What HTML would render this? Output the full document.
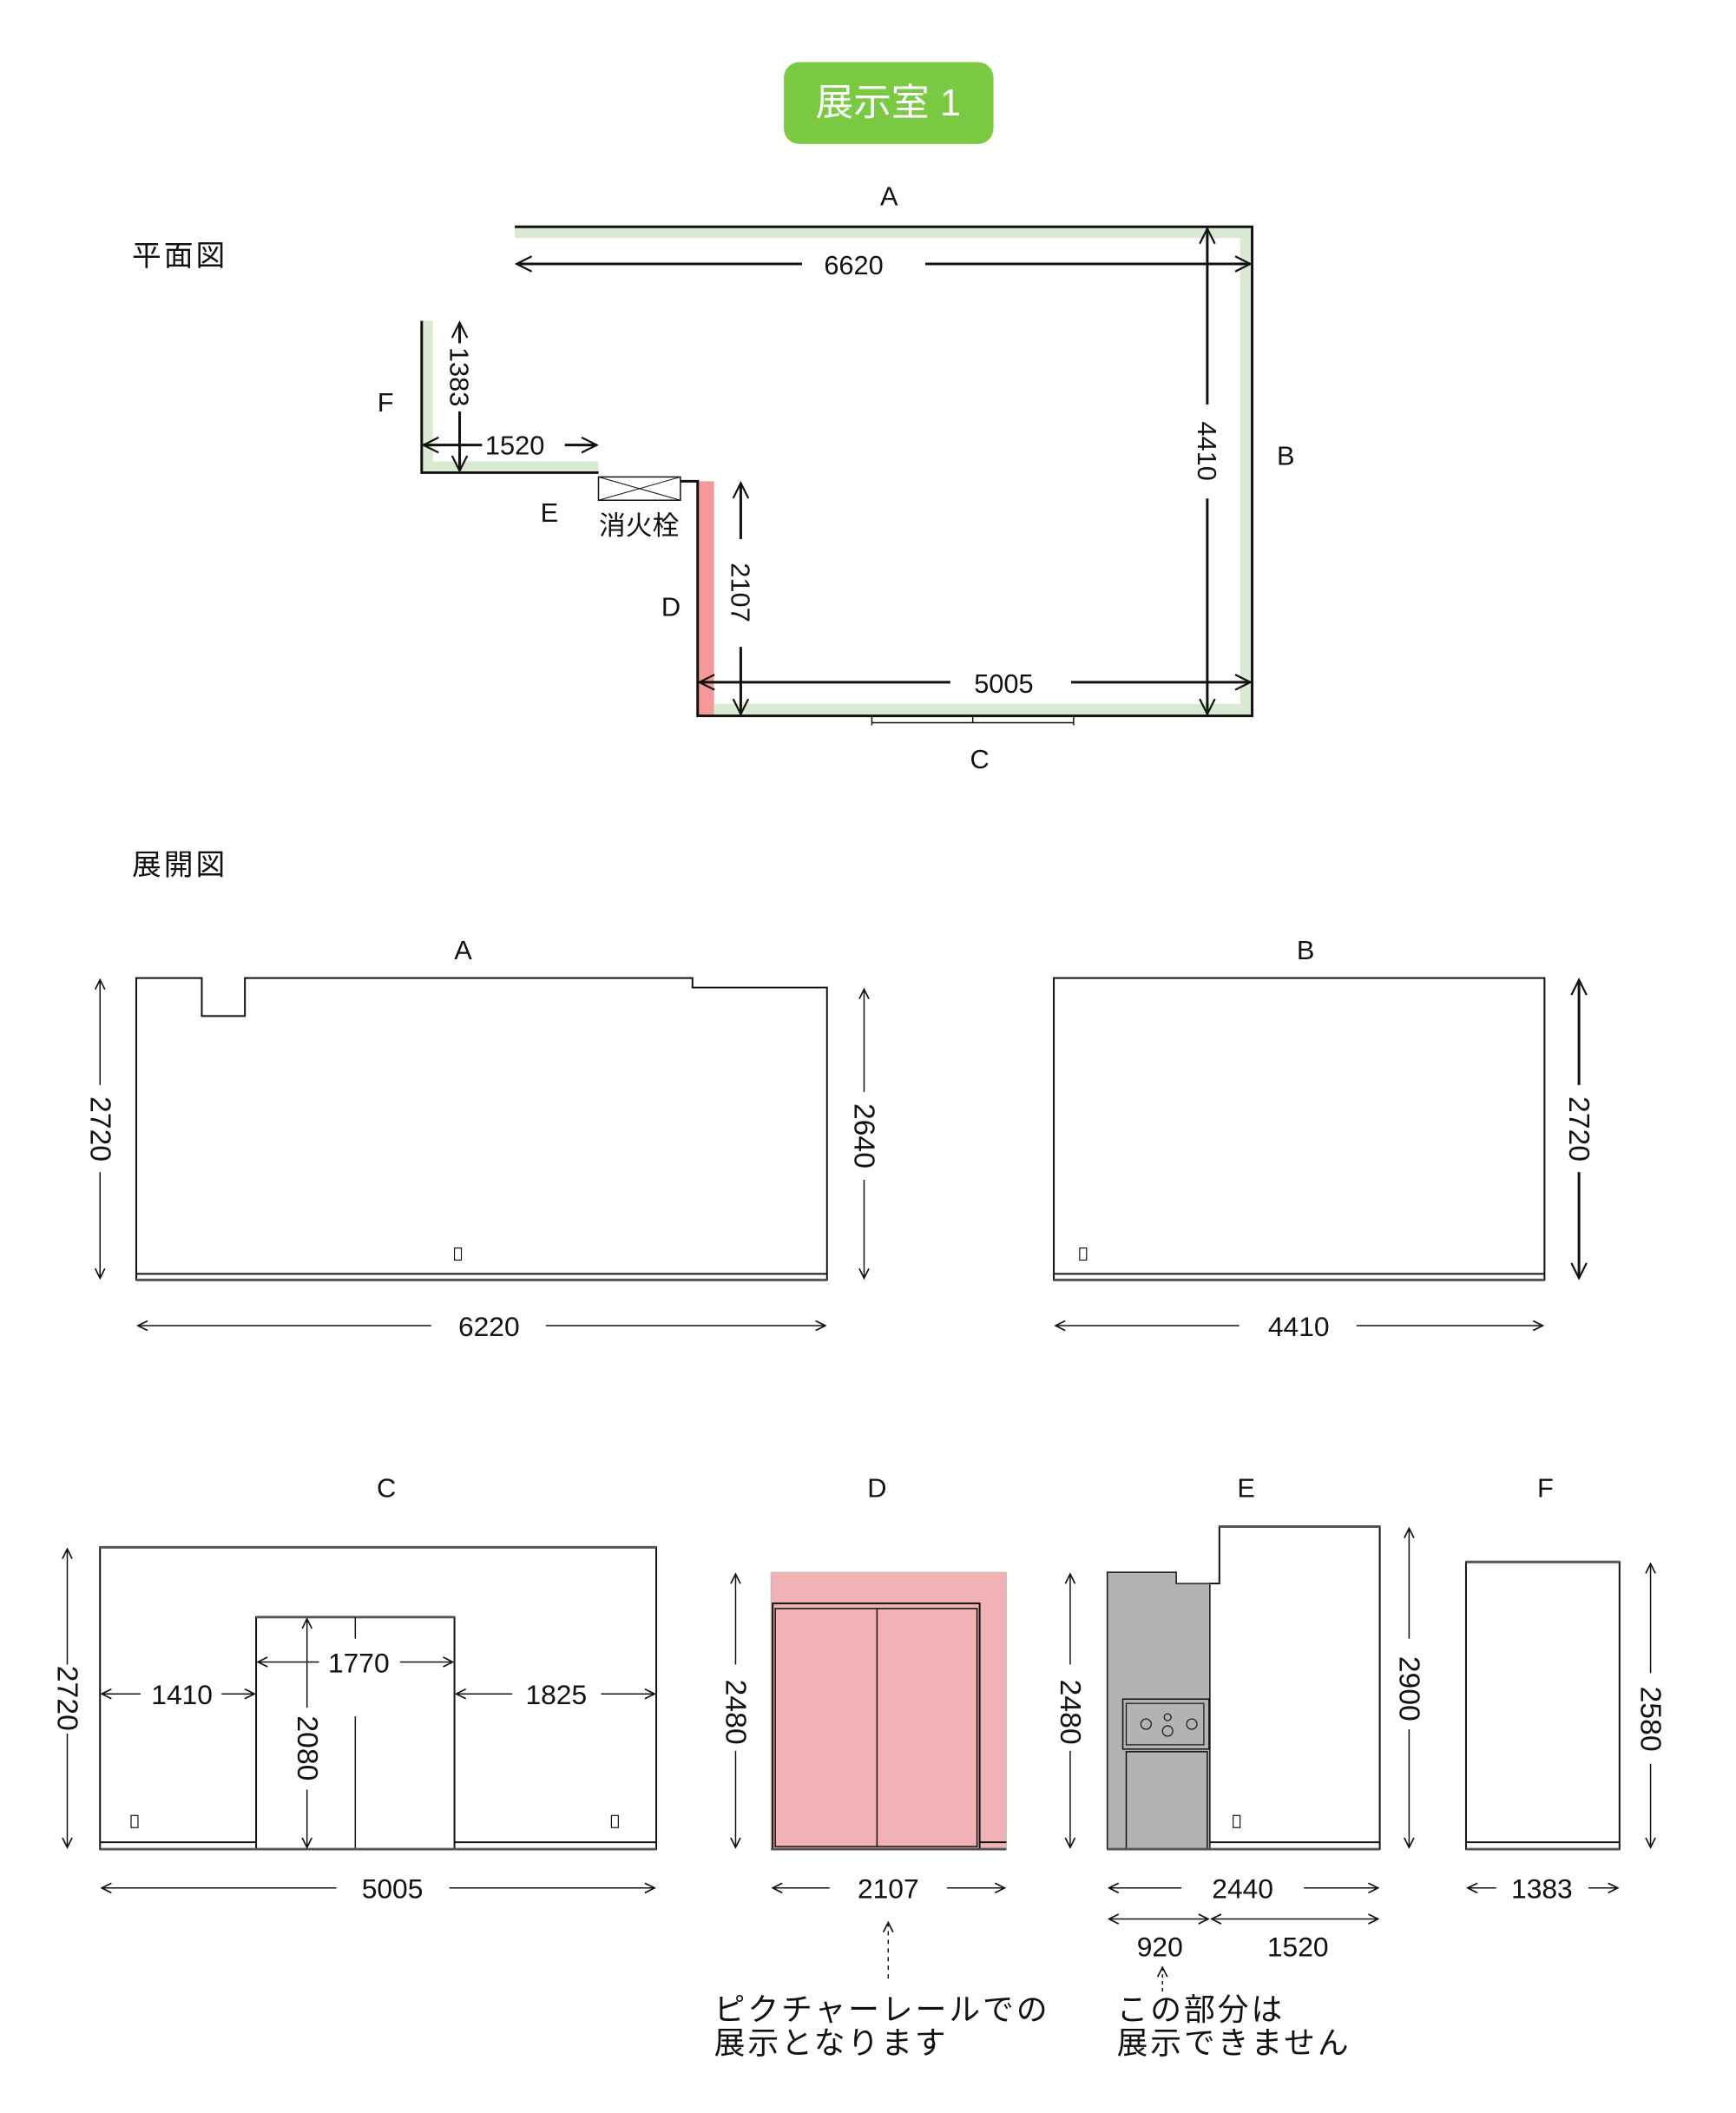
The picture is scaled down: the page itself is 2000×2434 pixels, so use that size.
<!DOCTYPE html>
<html><head><meta charset="utf-8"><style>
html,body{margin:0;padding:0;background:#fff}
svg{display:block}
text{font-family:"Liberation Sans","Noto Sans CJK JP",sans-serif;fill:#111}
</style></head><body>
<svg width="2000" height="2434" viewBox="0 0 2000 2434" xmlns="http://www.w3.org/2000/svg">
<defs>
<marker id="a" viewBox="0 0 10 10" refX="9" refY="5" markerWidth="14" markerHeight="14" markerUnits="userSpaceOnUse" orient="auto-start-reverse"><path d="M1,1 L9,5 L1,9" fill="none" stroke="#111" stroke-width="1.2"/></marker>
<marker id="b" viewBox="0 0 10 10" refX="9" refY="5" markerWidth="22" markerHeight="22" markerUnits="userSpaceOnUse" orient="auto-start-reverse"><path d="M1,1 L9,5 L1,9" fill="none" stroke="#111" stroke-width="1"/></marker>
</defs>
<g transform="scale(0.9935)">
<rect x="909" y="72" width="243" height="95" rx="18" fill="#7ac943"/>
<text x="1030" y="134" font-size="44" text-anchor="middle" style="fill:#fff">展示室 1</text>

<text x="153" y="308" font-size="34" letter-spacing="3">平面図</text>

<rect x="597" y="263" width="855" height="13" fill="#d9ead3"/>
<rect x="1438" y="263" width="14" height="567" fill="#d9ead3"/>
<rect x="809" y="816" width="643" height="14" fill="#d9ead3"/>
<rect x="809" y="558" width="19" height="272" fill="#f4999a"/>
<rect x="489" y="535" width="205" height="13" fill="#d9ead3"/>
<rect x="489" y="372" width="13" height="176" fill="#d9ead3"/>
<g fill="none" stroke="#111" stroke-width="3">
<path d="M597,263 H1452 V830 H809 V558 H789"/>
<path d="M489,372 V548 H694"/>
</g>
<rect x="694" y="553" width="95" height="27" fill="none" stroke="#111" stroke-width="1.5"/>
<path d="M694,553 L789,580 M789,553 L694,580" stroke="#111" stroke-width="1"/>
<path d="M1011,841 V830 M1245,841 V830 M1011,838 H1245 M1128,830 V838" stroke="#111" stroke-width="1.5" fill="none"/>
<text x="1031" y="238" font-size="31" text-anchor="middle">A</text>
<text x="1491" y="539" font-size="31" text-anchor="middle">B</text>
<text x="1136" y="891" font-size="31" text-anchor="middle">C</text>
<text x="778" y="714" font-size="31" text-anchor="middle">D</text>
<text x="637" y="605" font-size="31" text-anchor="middle">E</text>
<text x="447" y="477" font-size="31" text-anchor="middle">F</text>
<text x="741" y="620" font-size="31" text-anchor="middle">消火栓</text>
<g stroke="#111" stroke-width="3" fill="none">
<path d="M930,306 H599" marker-end="url(#b)"/>
<path d="M1073,306 H1450" marker-end="url(#b)"/>
<path d="M1400,469 V265" marker-end="url(#b)"/>
<path d="M1400,578 V828" marker-end="url(#b)"/>
<path d="M859,625 V560" marker-end="url(#b)"/>
<path d="M859,750 V828" marker-end="url(#b)"/>
<path d="M1102,791 H811" marker-end="url(#b)"/>
<path d="M1242,791 H1450" marker-end="url(#b)"/>
<path d="M533,398 V374" marker-end="url(#b)"/>
<path d="M533,477 V546" marker-end="url(#b)"/>
<path d="M559,516 H491" marker-end="url(#b)"/>
<path d="M655,516 H692" marker-end="url(#b)"/>
</g>
<text x="990" y="318" font-size="31" text-anchor="middle">6620</text>
<text x="1164" y="803" font-size="31" text-anchor="middle">5005</text>
<text x="597" y="527" font-size="31" text-anchor="middle">1520</text>
<text transform="translate(1389,523) rotate(90)" font-size="31" text-anchor="middle">4410</text>
<text transform="translate(848,687) rotate(90)" font-size="31" text-anchor="middle">2107</text>
<text transform="translate(522,437) rotate(90)" font-size="31" text-anchor="middle">1383</text>

<text x="153" y="1014" font-size="34" letter-spacing="3">展開図</text>

<text x="537" y="1112" font-size="31" text-anchor="middle">A</text>
<path d="M158,1484 V1134 H234 V1178 H284 V1134 H803 V1145 H959 V1484 Z" fill="none" stroke="#111" stroke-width="2"/>
<path d="M158,1477 H959" stroke="#111" stroke-width="2"/>
<path d="M158,1484 H959" stroke="#555" stroke-width="3"/>
<rect x="527" y="1447" width="8" height="14" fill="none" stroke="#111" stroke-width="1.2"/>
<g stroke="#111" stroke-width="1.5" fill="none">
<path d="M116,1258 V1136" marker-end="url(#a)"/><path d="M116,1359 V1482" marker-end="url(#a)"/>
<path d="M1002,1266 V1147" marker-end="url(#a)"/><path d="M1002,1368 V1482" marker-end="url(#a)"/>
<path d="M500,1537 H160" marker-end="url(#a)"/><path d="M633,1537 H957" marker-end="url(#a)"/>
</g>
<text transform="translate(105,1309) rotate(90)" font-size="34" text-anchor="middle">2720</text>
<text transform="translate(991,1317) rotate(90)" font-size="34" text-anchor="middle">2640</text>
<text x="567" y="1549" font-size="32" text-anchor="middle">6220</text>

<text x="1514" y="1112" font-size="31" text-anchor="middle">B</text>
<rect x="1222" y="1134" width="569" height="350" fill="none" stroke="#111" stroke-width="2"/>
<path d="M1222,1477 H1791" stroke="#111" stroke-width="2"/>
<path d="M1222,1484 H1791" stroke="#555" stroke-width="3"/>
<rect x="1252" y="1447" width="8" height="14" fill="none" stroke="#111" stroke-width="1.2"/>
<g stroke="#111" stroke-width="3" fill="none">
<path d="M1831,1258 V1136" marker-end="url(#b)"/><path d="M1831,1359 V1482" marker-end="url(#b)"/>
</g>
<g stroke="#111" stroke-width="1.5" fill="none">
<path d="M1437,1537 H1224" marker-end="url(#a)"/><path d="M1573,1537 H1789" marker-end="url(#a)"/>
</g>
<text transform="translate(1820,1309) rotate(90)" font-size="34" text-anchor="middle">2720</text>
<text x="1506" y="1549" font-size="32" text-anchor="middle">4410</text>

<text x="448" y="1736" font-size="31" text-anchor="middle">C</text>
<rect x="116" y="1794" width="645" height="350" fill="none" stroke="#111" stroke-width="2"/>
<path d="M116,1794 H761" stroke="#555" stroke-width="3"/>
<rect x="297" y="1875" width="230" height="269" fill="#fff" stroke="#111" stroke-width="2"/>
<path d="M297,1875 H527" stroke="#555" stroke-width="3"/>
<path d="M412,1875 V1900 M412,1990 V2144" stroke="#111" stroke-width="1.5"/>
<path d="M116,2136 H297 M527,2136 H761" stroke="#111" stroke-width="2"/>
<path d="M116,2144 H761" stroke="#555" stroke-width="3"/>
<rect x="152" y="2105" width="8" height="14" fill="none" stroke="#111" stroke-width="1.2"/>
<rect x="709" y="2105" width="8" height="14" fill="none" stroke="#111" stroke-width="1.2"/>
<g stroke="#111" stroke-width="1.5" fill="none">
<path d="M78,1930 V1796" marker-end="url(#a)"/><path d="M78,2010 V2142" marker-end="url(#a)"/>
<path d="M163,1964 H118" marker-end="url(#a)"/><path d="M257,1964 H295" marker-end="url(#a)"/>
<path d="M370,1927 H299" marker-end="url(#a)"/><path d="M464,1927 H525" marker-end="url(#a)"/>
<path d="M594,1964 H529" marker-end="url(#a)"/><path d="M697,1964 H759" marker-end="url(#a)"/>
<path d="M356,1980 V1877" marker-end="url(#a)"/><path d="M356,2075 V2142" marker-end="url(#a)"/>
<path d="M390,2189 H118" marker-end="url(#a)"/><path d="M521,2189 H759" marker-end="url(#a)"/>
</g>
<text transform="translate(67,1969) rotate(90)" font-size="34" text-anchor="middle">2720</text>
<text transform="translate(345,2027) rotate(90)" font-size="34" text-anchor="middle">2080</text>
<text x="211" y="1976" font-size="32" text-anchor="middle">1410</text>
<text x="416" y="1939" font-size="32" text-anchor="middle">1770</text>
<text x="645" y="1976" font-size="32" text-anchor="middle">1825</text>
<text x="455" y="2201" font-size="32" text-anchor="middle">5005</text>

<text x="1017" y="1736" font-size="31" text-anchor="middle">D</text>
<rect x="894" y="1823" width="273" height="321" fill="#f0b2b4" stroke="#bbb" stroke-width="1"/>
<rect x="896" y="1859" width="240" height="285" fill="none" stroke="#111" stroke-width="2"/>
<rect x="899" y="1865" width="234" height="276" fill="none" stroke="#111" stroke-width="1.5"/>
<path d="M1017,1865 V2141" stroke="#111" stroke-width="1.5"/>
<path d="M1136,2136 H1167" stroke="#111" stroke-width="2"/>
<path d="M894,2144 H1167" stroke="#555" stroke-width="3"/>
<g stroke="#111" stroke-width="1.5" fill="none">
<path d="M853,1930 V1825" marker-end="url(#a)"/><path d="M853,2030 V2142" marker-end="url(#a)"/>
<path d="M962,2189 H896" marker-end="url(#a)"/><path d="M1098,2189 H1165" marker-end="url(#a)"/>
<path d="M1030,2294 V2229" marker-end="url(#a)" stroke-dasharray="5,5"/>
</g>
<text transform="translate(842,1985) rotate(90)" font-size="34" text-anchor="middle">2480</text>
<text x="1030" y="2201" font-size="32" text-anchor="middle">2107</text>
<text x="828" y="2342" font-size="36" letter-spacing="3">ピクチャーレールでの</text>
<text x="828" y="2381" font-size="36" letter-spacing="3">展示となります</text>

<text x="1445" y="1736" font-size="31" text-anchor="middle">E</text>
<path d="M1284,2144 V1823 H1364 V1836 H1403 V2144 Z" fill="#b3b3b3" stroke="#111" stroke-width="1.5"/>
<path d="M1403,1836 H1414 V1770 H1600 V2144 H1403" fill="none" stroke="#111" stroke-width="2"/>
<path d="M1414,1770 H1600" stroke="#555" stroke-width="3"/>
<rect x="1302" y="1970" width="100" height="58" fill="none" stroke="#111" stroke-width="1.5"/>
<rect x="1306" y="1975" width="90" height="48" fill="none" stroke="#111" stroke-width="1.2"/>
<circle cx="1329" cy="1999" r="6" fill="none" stroke="#111" stroke-width="1.2"/>
<circle cx="1354" cy="1991" r="4" fill="none" stroke="#111" stroke-width="1.2"/>
<circle cx="1354" cy="2007" r="6" fill="none" stroke="#111" stroke-width="1.2"/>
<circle cx="1382" cy="1999" r="6" fill="none" stroke="#111" stroke-width="1.2"/>
<rect x="1306" y="2031" width="94" height="113" fill="none" stroke="#111" stroke-width="1.5"/>
<path d="M1403,2136 H1600" stroke="#111" stroke-width="2"/>
<path d="M1284,2144 H1600" stroke="#555" stroke-width="3"/>
<rect x="1430" y="2105" width="8" height="14" fill="none" stroke="#111" stroke-width="1.2"/>
<g stroke="#111" stroke-width="1.5" fill="none">
<path d="M1241,1930 V1825" marker-end="url(#a)"/><path d="M1241,2030 V2142" marker-end="url(#a)"/>
<path d="M1634,1900 V1772" marker-end="url(#a)"/><path d="M1634,2005 V2142" marker-end="url(#a)"/>
<path d="M1370,2189 H1286" marker-end="url(#a)"/><path d="M1512,2189 H1598" marker-end="url(#a)"/>
<path d="M1345,2225 H1286" marker-end="url(#a)"/><path d="M1345,2225 H1401" marker-end="url(#a)"/>
<path d="M1505,2225 H1405" marker-end="url(#a)"/><path d="M1505,2225 H1598" marker-end="url(#a)"/>
<path d="M1348,2309 V2281" marker-end="url(#a)" stroke-dasharray="4,4"/>
</g>
<text transform="translate(1230,1985) rotate(90)" font-size="34" text-anchor="middle">2480</text>
<text transform="translate(1623,1958) rotate(90)" font-size="34" text-anchor="middle">2900</text>
<text x="1441" y="2201" font-size="32" text-anchor="middle">2440</text>
<text x="1345" y="2268" font-size="32" text-anchor="middle">920</text>
<text x="1505" y="2268" font-size="32" text-anchor="middle">1520</text>
<text x="1295" y="2342" font-size="36" letter-spacing="3">この部分は</text>
<text x="1295" y="2381" font-size="36" letter-spacing="3">展示できません</text>

<text x="1792" y="1736" font-size="31" text-anchor="middle">F</text>
<rect x="1700" y="1811" width="178" height="333" fill="none" stroke="#111" stroke-width="2"/>
<path d="M1700,1811 H1878" stroke="#555" stroke-width="3"/>
<path d="M1700,2136 H1878" stroke="#111" stroke-width="2"/>
<path d="M1700,2144 H1878" stroke="#555" stroke-width="3"/>
<g stroke="#111" stroke-width="1.5" fill="none">
<path d="M1914,1940 V1813" marker-end="url(#a)"/><path d="M1914,2045 V2142" marker-end="url(#a)"/>
<path d="M1735,2189 H1702" marker-end="url(#a)"/><path d="M1842,2189 H1876" marker-end="url(#a)"/>
</g>
<text transform="translate(1903,1993) rotate(90)" font-size="34" text-anchor="middle">2580</text>
<text x="1788" y="2201" font-size="32" text-anchor="middle">1383</text>
</g>
</svg>
</body></html>
